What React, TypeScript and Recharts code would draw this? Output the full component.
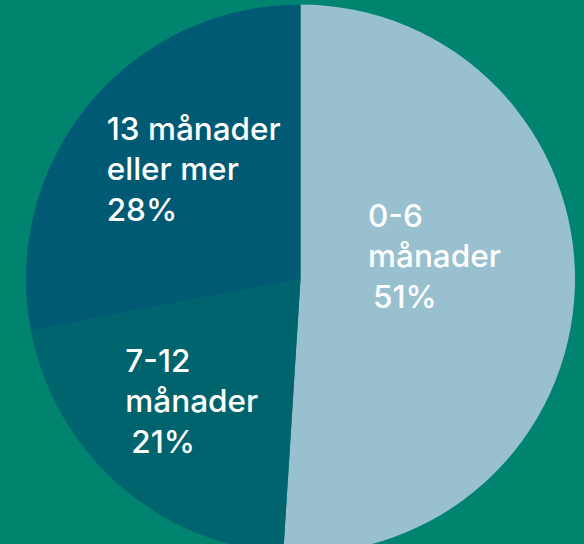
import { PieChart, Pie, Cell } from 'recharts';

const categories = ['0-6 månader', '7-12 månader', '13 månader eller mer'];
const shares = [51, 21, 28];
const labelLines = [
  ['0-6', 'månader'],
  ['7-12', 'månader'],
  ['13 månader', 'eller mer'],
];

const COLORS = ['#98C0CF', '#00646F', '#005A74'];
const BG = '#00846F';

// label anchors relative to the pie centre, in units of the radius
const LABEL_OFFSETS = [
  { dx: 0.246, dy: -0.19, pctIndent: 5 },
  { dx: -0.638, dy: 0.34, pctIndent: 6 },
  { dx: -0.706, dy: -0.507, pctIndent: 0 },
];

const data = categories.map((name, i) => ({ name, value: shares[i] }));

function renderLabel(props: any) {
  const { cx, cy, outerRadius, index } = props;
  const off = LABEL_OFFSETS[index];
  const x = cx + off.dx * outerRadius;
  const y = cy + off.dy * outerRadius;
  const lines = labelLines[index];
  return (
    <text
      x={x}
      y={y}
      fill="#ffffff"
      textAnchor="start"
      fontFamily="Inter, 'Noto Sans', sans-serif"
      fontSize={31.5}
      fontWeight={500}
    >
      <tspan x={x} y={y}>{lines[0]}</tspan>
      <tspan x={x} dy={40}>{lines[1]}</tspan>
      <tspan x={x + off.pctIndent} dy={41}>{`${shares[index]}%`}</tspan>
    </text>
  );
}

export default function App() {
  return (
    <div style={{ width: 584, height: 544, background: BG, position: 'absolute', left: 0, top: 0, overflow: 'hidden' }}>
      <style>{'body{margin:0}'}</style>
      <PieChart width={584} height={544} margin={{ top: 0, right: 0, bottom: 0, left: 0 }}>
        <Pie
          data={data}
          dataKey="value"
          cx={300.5}
          cy={279}
          outerRadius={274.5}
          startAngle={90}
          endAngle={-270}
          stroke="none"
          labelLine={false}
          label={renderLabel}
          isAnimationActive={false}
        >
          {data.map((entry, index) => (
            <Cell key={`cell-${index}`} fill={COLORS[index]} />
          ))}
        </Pie>
      </PieChart>
    </div>
  );
}
